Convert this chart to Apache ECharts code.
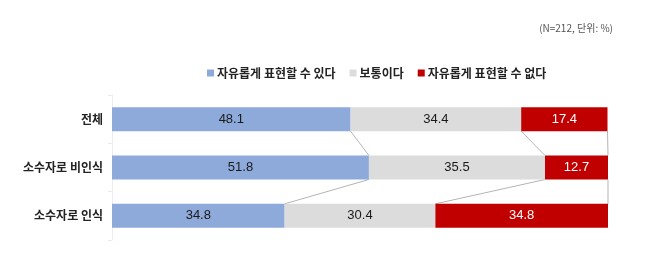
<!DOCTYPE html>
<html><head><meta charset="utf-8">
<script src="https://cdn.jsdelivr.net/npm/echarts@6/dist/echarts.min.js"></script>
<style>html,body{margin:0;padding:0;background:#fff}#c{width:658px;height:259px}</style>
</head><body><div id="c"></div>
<script>
const categories = ['전체', '소수자로 비인식', '소수자로 인식'];
const seriesNames = ['자유롭게 표현할 수 있다', '보통이다', '자유롭게 표현할 수 없다'];
const canExpress = [48.1, 51.8, 34.8];
const neutral = [34.4, 35.5, 30.4];
const cannotExpress = [17.4, 12.7, 34.8];
const subtitle = '(N=212, 단위: %)';

const colors = ['#8eaadb', '#dcdcdc', '#c00000'];
const labelColors = ['#1a1a1a', '#1a1a1a', '#ffffff'];
const allValues = [canExpress, neutral, cannotExpress];
const BAR_W = 24;
const KR = '"Noto Sans CJK KR", sans-serif';
const NUM = '"Liberation Sans", Arial, sans-serif';

// cumulative boundaries per category
const cum = categories.map((c, i) => {
  let s = 0; return allValues.map(a => (s += a[i]));
});

const chart = echarts.init(document.getElementById('c'), null, {renderer: 'canvas'});
const barSeries = seriesNames.map((n, k) => ({
  name: n, type: 'bar', stack: 'total', barWidth: BAR_W,
  data: allValues[k], itemStyle: {color: colors[k]},
  label: {show: true, position: 'inside', color: labelColors[k], fontSize: 13, fontFamily: NUM,
          formatter: p => p.value.toFixed(1)},
  emphasis: {disabled: true}, z: 3
}));

const connector = {
  type: 'custom', silent: true, z: 2,
  data: categories.slice(0, -1).map((c, i) => [i]),
  encode: {y: 0},
  renderItem: function (params, api) {
    const i = api.value(0);
    const children = [];
    for (let k = 0; k < 3; k++) {
      const p1 = api.coord([cum[i][k], i]);
      const p2 = api.coord([cum[i + 1][k], i + 1]);
      children.push({type: 'line', shape: {x1: p1[0], y1: p1[1] + BAR_W / 2, x2: p2[0], y2: p2[1] - BAR_W / 2},
        style: {stroke: '#b4b4b4', lineWidth: 1}});
    }
    return {type: 'group', children};
  }
};

chart.setOption({
  animation: false,
  textStyle: {fontFamily: KR},
  title: {text: subtitle, right: 40, top: 18, textStyle: {fontSize: 10, fontWeight: 'normal', color: '#555', fontFamily: KR}},
  legend: {data: seriesNames, left: 202, top: 62, icon: 'rect', itemWidth: 7, itemHeight: 7, itemGap: 14,
    textStyle: {fontSize: 12, fontWeight: 'bold', color: '#222', fontFamily: KR, padding: [0, 0, 0, -2]}},
  grid: {left: 112, right: 50, top: 95, bottom: 19},
  xAxis: {type: 'value', min: 0, max: 100, show: false},
  yAxis: {type: 'category', data: categories, inverse: true,
    axisLine: {show: true, lineStyle: {color: '#ececec'}},
    axisTick: {show: true, length: 4, lineStyle: {color: '#ececec'}},
    axisLabel: {fontSize: 12, fontWeight: 'bold', color: '#222', margin: 9, fontFamily: KR}},
  series: [...barSeries, connector]
});
</script></body></html>
